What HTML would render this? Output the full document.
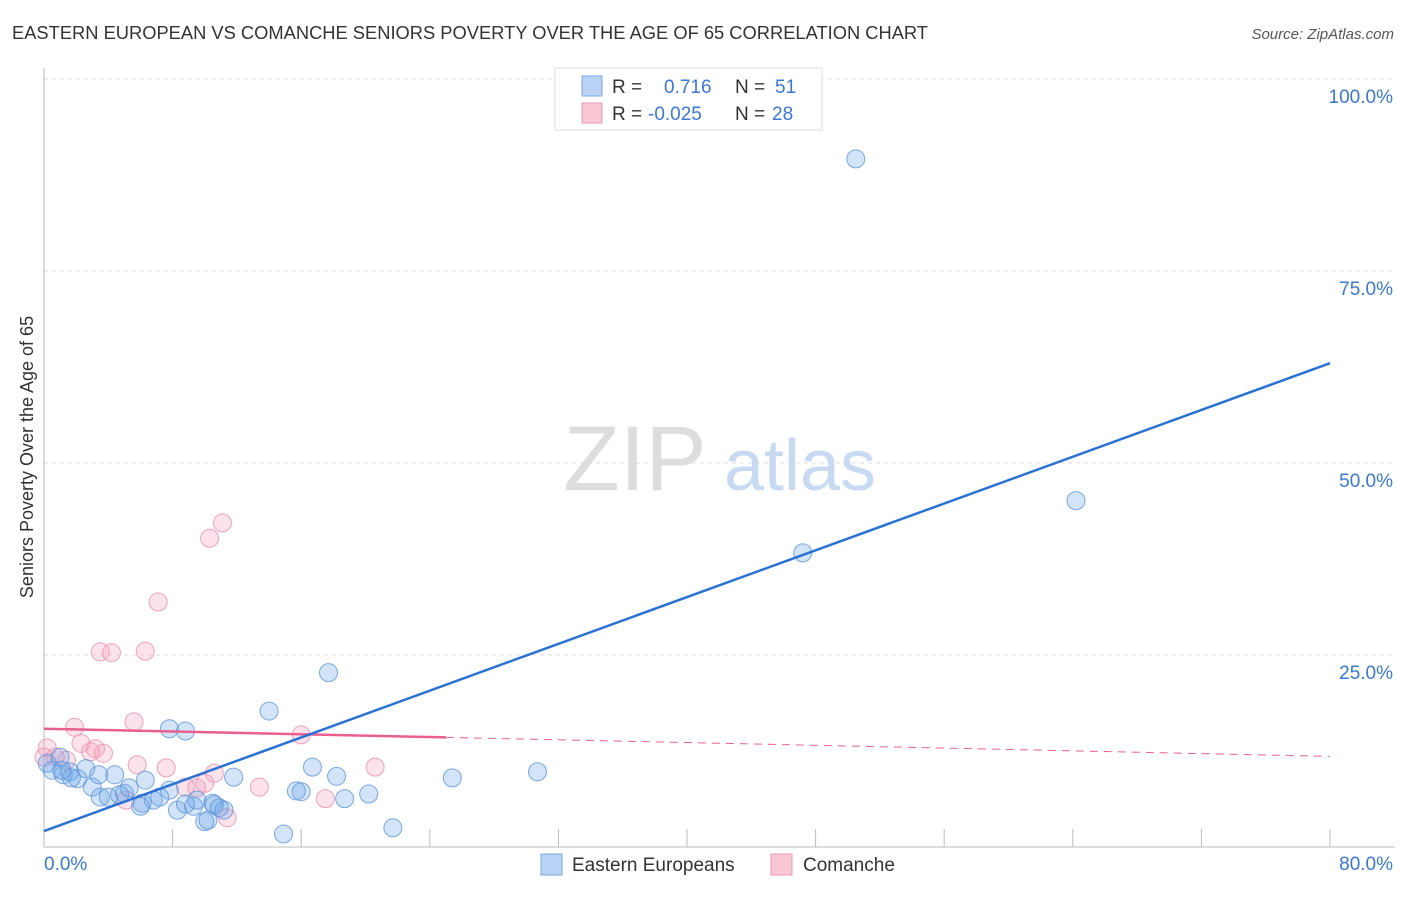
<!DOCTYPE html>
<html><head><meta charset="utf-8">
<style>
body{margin:0;background:#fff;font-family:"Liberation Sans",sans-serif;}
svg text{font-family:"Liberation Sans",sans-serif;}
</style></head>
<body>
<svg width="1406" height="892" xmlns="http://www.w3.org/2000/svg" id="chart">
<text x="12" y="39" font-size="18" fill="#333" textLength="916" lengthAdjust="spacingAndGlyphs">EASTERN EUROPEAN VS COMANCHE SENIORS POVERTY OVER THE AGE OF 65 CORRELATION CHART</text>
<text x="1394" y="39" font-size="15" fill="#555" font-style="italic" text-anchor="end">Source: ZipAtlas.com</text>
<text x="0" y="0" transform="translate(33,457) rotate(-90)" font-size="18" fill="#333" text-anchor="middle">Seniors Poverty Over the Age of 65</text>
<g id="grid"></g>
<g>
<text x="635" y="490" font-size="92" fill="#ddd" font-family="Liberation Serif" text-anchor="middle">ZIP</text>
<text x="800" y="490" font-size="72" fill="#c8daf2" text-anchor="middle">atlas</text>
</g>
<g id="points"></g>
<g id="lines"></g>
<g>
<rect x="555" y="68" width="267" height="62" fill="#fff" stroke="#ddd"/>
<rect x="582" y="76" width="20" height="20" fill="#b8d3f5" stroke="#7aa8e0"/>
<rect x="582" y="103" width="20" height="20" fill="#f9c6d6" stroke="#e899b3"/>
<text x="612" y="93" font-size="19" fill="#333">R = </text><text x="664" y="93" font-size="19" fill="#3a78d4">0.716</text>
<text x="735" y="93" font-size="19" fill="#333">N = </text><text x="775" y="93" font-size="19" fill="#3a78d4">51</text>
<text x="612" y="120" font-size="19" fill="#333">R = </text><text x="648" y="120" font-size="19" fill="#3a78d4">-0.025</text>
<text x="735" y="120" font-size="19" fill="#333">N = </text><text x="772" y="120" font-size="19" fill="#3a78d4">28</text>
</g>
<g>
<rect x="541" y="854" width="21" height="21" fill="#b8d3f5" stroke="#7aa8e0"/>
<text x="572" y="871" font-size="19" fill="#333">Eastern Europeans</text>
<rect x="771" y="854" width="21" height="21" fill="#f9c6d6" stroke="#e899b3"/>
<text x="803" y="871" font-size="19" fill="#333">Comanche</text>
</g>
</svg>
<script>
const blueX=[50.5,64.2,47.2,17.7,14.0,7.8,8.8,30.7,25.4,16.7,18.2,11.8,6.3,4.4,0.5,1.0,0.2,1.2,2.1,3.0,3.5,5.0,5.3,4.0,7.8,6.8,7.2,6.1,8.3,9.3,9.5,10.5,10.9,11.2,10.0,10.2,15.7,16.0,18.7,20.2,21.7,14.9,2.6,1.6,3.4,1.1,4.7,6.0,8.8,10.6,1.7];
const blueY=[89.6,45.1,38.3,22.7,17.7,15.4,15.1,9.8,9.0,10.4,9.2,9.1,8.7,9.4,10.0,11.7,10.9,9.4,8.9,7.8,6.5,7.0,7.7,6.5,7.4,6.1,6.5,5.7,4.8,5.3,6.1,5.7,5.1,4.8,3.3,3.5,7.3,7.2,6.3,6.9,2.5,1.7,10.2,9.8,9.4,10.0,6.8,5.3,5.6,5.5,9.0];
const pinkX=[11.1,10.3,7.1,3.5,4.2,6.3,5.6,1.9,16.0,2.3,3.2,3.7,2.9,7.6,5.8,10.6,20.6,13.4,9.5,10.0,17.5,5.1,11.4,0.2,0.7,1.4,0.0,8.8];
const pinkY=[42.2,40.2,31.9,25.4,25.3,25.5,16.3,15.6,14.6,13.5,12.8,12.2,12.4,10.3,10.7,9.6,10.4,7.8,7.7,8.3,6.3,6.1,3.8,12.9,11.7,11.3,11.7,7.8];
const blueLine=[2.08,63.0];
const pinkLine=[15.4,11.8];
const pinkSolidEnd=25;
const yTicks=[25,50,75,100];
const yTickLabels=["25.0%","50.0%","75.0%","100.0%"];
const xTicks=[0,8,16,24,32,40,48,56,64,72,80];
const ns="http://www.w3.org/2000/svg";
const X=v=>44+v*16.075, Y=v=>847-v*7.68;
function mk(t,a,p){const e=document.createElementNS(ns,t);for(const k in a)e.setAttribute(k,a[k]);p.appendChild(e);return e;}
const grid=document.getElementById('grid');
yTicks.forEach((t,i)=>{
  const l=mk('line',{x1:44,x2:1395,y1:Y(t),y2:Y(t),stroke:'#ddd','stroke-dasharray':'4,4'},grid);
  
  
  const tx=mk('text',{x:1393,y:Y(t)+24,'font-size':19,fill:'#3a78d4','text-anchor':'end'},grid);
  tx.textContent=yTickLabels[i];
  
  
});
const ax=mk('line',{x1:44,x2:44,y1:68,y2:847,stroke:'#bbb'},grid);


const bx=mk('line',{x1:44,x2:1395,y1:847,y2:847,stroke:'#bbb'},grid);


xTicks.forEach(t=>{const l=mk('line',{x1:X(t),x2:X(t),y1:829,y2:847,stroke:'#bbb'},grid);
  
  });
let t0=mk('text',{x:44,y:870,'font-size':19,fill:'#3a78d4'},grid);t0.textContent='0.0%';


let t1=mk('text',{x:1393,y:870,'font-size':19,fill:'#3a78d4','text-anchor':'end'},grid);t1.textContent='80.0%';


const pts=document.getElementById('points');
pinkX.forEach((x,i)=>{const c=mk('circle',{cx:X(x),cy:Y(pinkY[i]),r:9,fill:'rgba(244,160,188,0.3)',stroke:'rgba(234,143,174,0.8)','stroke-width':1},pts);
  
  });
blueX.forEach((x,i)=>{const c=mk('circle',{cx:X(x),cy:Y(blueY[i]),r:9,fill:'rgba(110,165,232,0.3)',stroke:'rgba(91,147,217,0.8)','stroke-width':1},pts);
  
  });
const lines=document.getElementById('lines');
const pm=v=>pinkLine[0]+(pinkLine[1]-pinkLine[0])*v/80;
let p1=mk('line',{x1:X(0),y1:Y(pinkLine[0]),x2:X(pinkSolidEnd),y2:Y(pm(pinkSolidEnd)),stroke:'#e8608e','stroke-width':2.5},lines);


let p2=mk('line',{x1:X(pinkSolidEnd),y1:Y(pm(pinkSolidEnd)),x2:X(80),y2:Y(pinkLine[1]),stroke:'#e8608e','stroke-width':1,'stroke-dasharray':'8,6'},lines);


let b=mk('line',{x1:X(0),y1:Y(blueLine[0]),x2:X(80),y2:Y(blueLine[1]),stroke:'#2a72d6','stroke-width':2.5},lines);


</script>
</body></html>
